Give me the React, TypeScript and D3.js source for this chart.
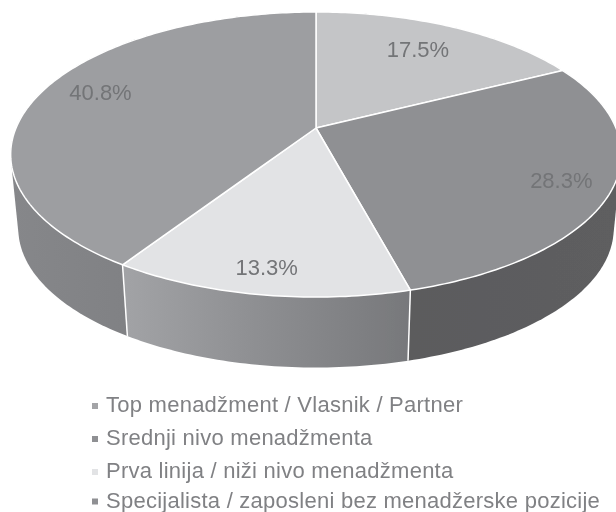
import React from "react";
import * as d3 from "d3";

const categories = [
  "Top menadžment / Vlasnik / Partner",
  "Srednji nivo menadžmenta",
  "Prva linija / niži nivo menadžmenta",
  "Specijalista / zaposleni bez menadžerske pozicije",
];
const sliceValues = [17.5, 28.3, 13.3, 40.8];
const sliceLabels = ["17.5%", "28.3%", "13.3%", "40.8%"];
const topColors = ["#c4c5c7", "#8f9093", "#e2e3e5", "#9d9ea1"];
const legendColors = ["#a3a4a7", "#8f9093", "#e2e3e5", "#8f9093"];
const wallStops = [
  ["#9a9b9e", "#9a9b9e"],
  ["#5b5b5d", "#5e5e60"],
  ["#a2a3a6", "#77787b"],
  ["#86878a", "#77787b"],
];
const labelRadius = [0.74, 0.845, 0.88, 0.78];
const labelShift = [[-2, 0], [-2, 2], [0, -3], [0, -6]];
const legendBaselines = [412, 445, 478, 507.5];

const W = 616, H = 512;
const CX = 316, APEX_Y = 128, S = 300, C = -0.186, B = 113.8;
const ELLIPSE_CY = 155, DEPTH = 74, SHRINK = 0.975;

function top(theta: number, r = 1): [number, number] {
  const u = r * Math.sin(theta), v = -r * Math.cos(theta);
  const den = 1 + C * v;
  return [CX + (S * u) / den, (APEX_Y + B * v) / den];
}
function bottom(theta: number): [number, number] {
  const [x, y] = top(theta);
  return [CX + (x - CX) * SHRINK, ELLIPSE_CY + DEPTH + (y - ELLIPSE_CY) * SHRINK];
}

const arcs = d3.pie<number>().sort(null).value((d) => d)(sliceValues);
const line = d3.line();

function samples(a: number, b: number) {
  const n = Math.max(4, Math.ceil((b - a) * 60));
  return d3.range(n + 1).map((i) => a + ((b - a) * i) / n);
}

export default function App() {
  return (
    <svg width={W} height={H} style={{ position: "absolute", left: 0, top: 0, background: "#fff" }}>
      <defs>
        <filter id="soft" x="-5%" y="-5%" width="110%" height="110%">
          <feGaussianBlur stdDeviation="0.4" />
        </filter>
        {arcs.map((a, i) => {
          const xs = samples(a.startAngle, a.endAngle).map((t) => top(t)[0]);
          const low = d3.min(xs)!, high = d3.max(xs)!;
          return (
            <linearGradient key={i} id={`wall${i}`} gradientUnits="userSpaceOnUse" x1={low} x2={high} y1={0} y2={0}>
              <stop offset="0" stopColor={wallStops[i][0]} />
              <stop offset="1" stopColor={wallStops[i][1]} />
            </linearGradient>
          );
        })}
      </defs>
      <g filter="url(#soft)">
        {arcs.slice().reverse().map((a) => {
          const i = a.index;
          const ts = samples(a.startAngle, a.endAngle);
          const hull = d3.polygonHull([...ts.map((t) => top(t)), ...ts.map((t) => bottom(t))])!;
          return <path key={i} d={line(hull)! + "Z"} fill={`url(#wall${i})`} />;
        })}
        {arcs.map((a, i) => (
          <path key={i} d={line([top(a.startAngle), bottom(a.startAngle)])!} stroke="#fff" strokeWidth={1.5} fill="none" />
        ))}
        {arcs.map((a, i) => {
          const ts = samples(a.startAngle, a.endAngle);
          const pts: [number, number][] = [[CX, APEX_Y], ...ts.map((t) => top(t))];
          return <path key={i} d={line(pts)! + "Z"} fill={topColors[i]} stroke="#fff" strokeWidth={1.5} strokeLinejoin="round" />;
        })}
        {arcs.map((a, i) => {
          const [x, y] = top((a.startAngle + a.endAngle) / 2, labelRadius[i]);
          return (
            <text key={i} x={x + labelShift[i][0]} y={y + labelShift[i][1] + 7} textAnchor="middle"
              fontFamily="Liberation Sans" fontSize={22} fill="#737477">
              {sliceLabels[i]}
            </text>
          );
        })}
        {categories.map((c, i) => (
          <g key={c}>
            <rect x={92} y={legendBaselines[i] - 9} width={6} height={6} fill={legendColors[i]} />
            <text x={106} y={legendBaselines[i]} fontFamily="Liberation Sans" fontSize={22} letterSpacing={0.25} fill="#808184">{c}</text>
          </g>
        ))}
      </g>
    </svg>
  );
}
